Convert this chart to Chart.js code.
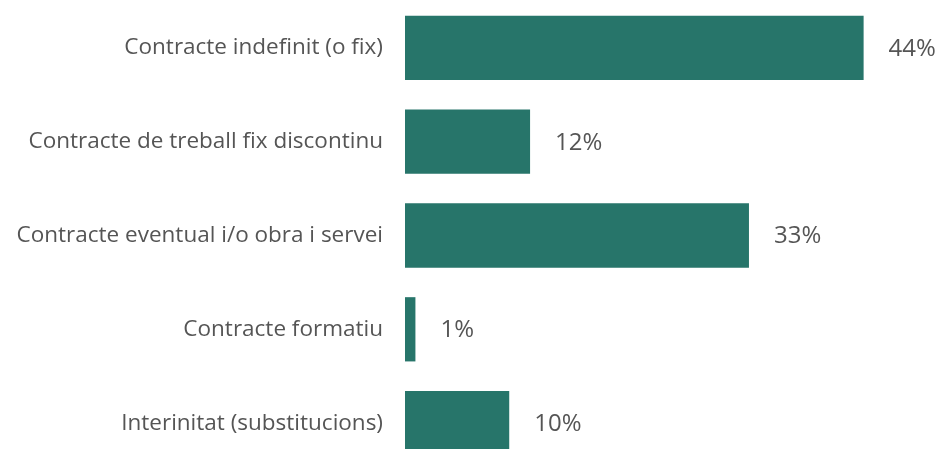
<!DOCTYPE html>
<html>
<head>
<meta charset="utf-8">
<script src="https://cdn.jsdelivr.net/npm/chart.js@4/dist/chart.umd.min.js"></script>
<style>
  html, body { margin: 0; padding: 0; background: #fff; overflow: hidden; }
  canvas { display: block; }
</style>
</head>
<body>
<canvas id="contractChart" width="947" height="470"></canvas>
<script>
// Tipus de contracte
const categories = [
    'Contracte indefinit (o fix)',
    'Contracte de treball fix discontinu',
    'Contracte eventual i/o obra i servei',
    'Contracte formatiu',
    'Interinitat (substitucions)'
];
const shares = [44, 12, 33, 1, 10];

// value labels at the end of each bar
const valueLabels = {
    id: 'valueLabels',
    afterDatasetsDraw(chart) {
        const ctx = chart.ctx;
        const meta = chart.getDatasetMeta(0);
        ctx.save();
        ctx.font = '24px "Open Sans"';
        ctx.fillStyle = '#555';
        ctx.textAlign = 'left';
        ctx.textBaseline = 'middle';
        meta.data.forEach((bar, i) => {
            ctx.fillText(shares[i] + '%', bar.x + 25, bar.y + 1);
        });
        ctx.restore();
    }
};

new Chart(document.getElementById('contractChart'), {
    type: 'bar',
    data: {
        labels: categories,
        datasets: [{
            data: shares,
            backgroundColor: '#27756a',
            barPercentage: 0.685,
            categoryPercentage: 1
        }]
    },
    options: {
        indexAxis: 'y',
        responsive: false,
        animation: false,
        layout: { padding: { top: 1, right: 0, bottom: 0, left: 0 } },
        plugins: { legend: { display: false }, tooltip: { enabled: false } },
        scales: {
            x: {
                min: 0,
                max: 52,
                display: false
            },
            y: {
                grid: { display: false },
                border: { display: false },
                afterFit(scale) {
                    scale.width = 405;
                    scale.paddingTop = 0;
                    scale.paddingBottom = 0;
                },
                ticks: {
                    color: '#555',
                    padding: 14,
                    font: { family: 'Open Sans', size: 22.5 }
                }
            }
        }
    },
    plugins: [valueLabels]
});
</script>
</body>
</html>
